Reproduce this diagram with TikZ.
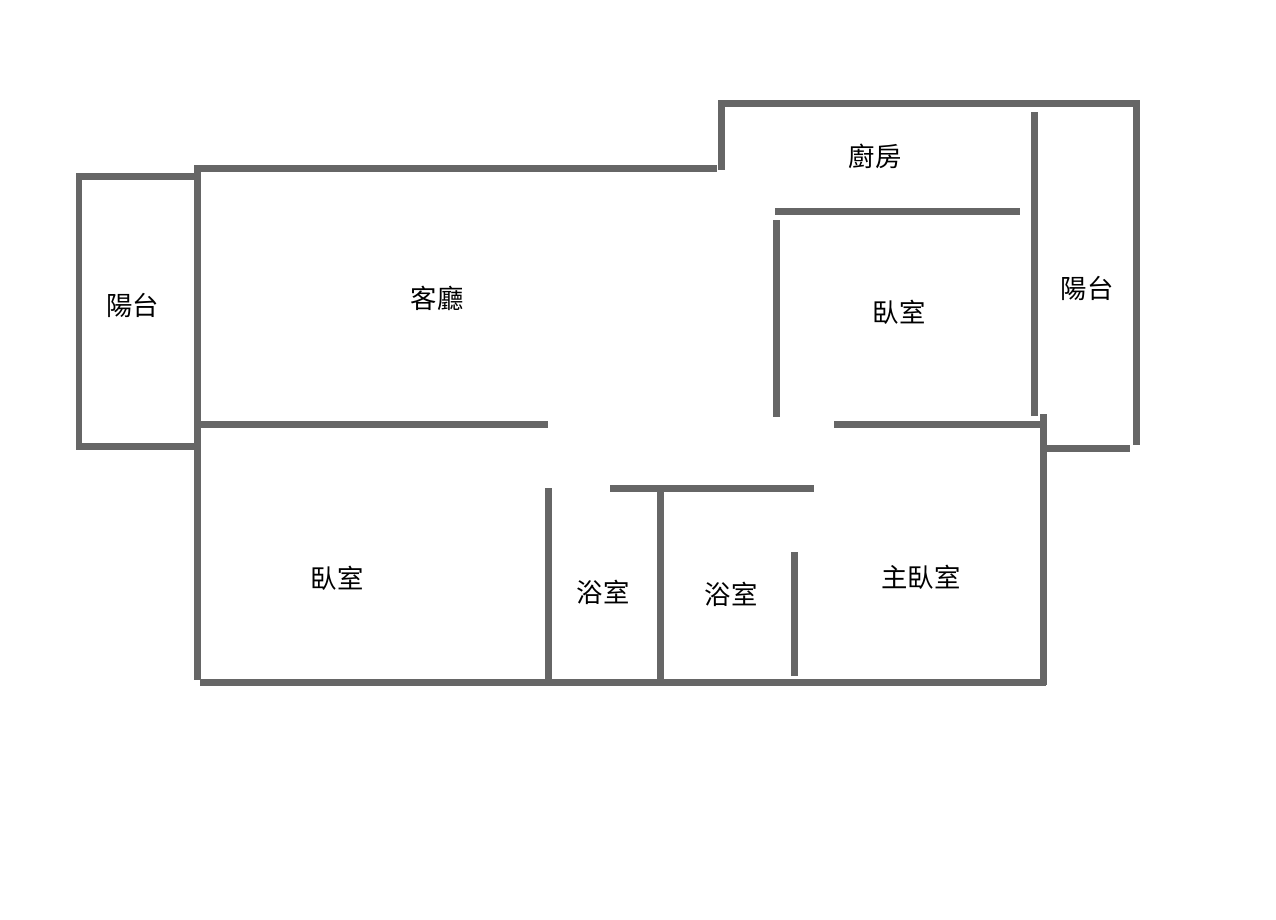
\documentclass[tikz,border=0pt]{standalone}
\usepackage{fontspec}
\usepackage{xcolor}
\usepackage{tikz}
\usetikzlibrary{positioning}
\newfontfamily\cjk{Noto Sans CJK TC}
\definecolor{wallgray}{RGB}{102,102,102}

\begin{document}
\begin{tikzpicture}[
  x=0.02cm, y=-0.02cm,
  wall/.style={draw=wallgray, line width=0.14cm},
  roomlabel/.style={font=\cjk\fontsize{15}{15}\selectfont, inner sep=0pt, text=black}
]
\useasboundingbox (0,0) rectangle (1276,920);

% Outer walls
\draw[wall] (197,176) -- (79,176) -- (79,446) -- (197,446);
\draw[wall] (197,165) -- (197,680);
\draw[wall] (197,168) -- (717,168);
\draw[wall] (721,170) -- (721,103) -- (1136,103) -- (1136,445);
\draw[wall] (1047,448) -- (1130,448);
\draw[wall] (1043,414) -- (1043,685);
\draw[wall] (200,682) -- (1046,682);

% Inner walls
\draw[wall] (775,211) -- (1020,211);
\draw[wall] (776,220) -- (776,417);
\draw[wall] (1034,112) -- (1034,416);
\draw[wall] (200,424) -- (548,424);
\draw[wall] (834,424) -- (1040,424);
\draw[wall] (548,488) -- (548,680);
\draw[wall] (610,488) -- (814,488);
\draw[wall] (660,491) -- (660,680);
\draw[wall] (794,552) -- (794,676);

% Room labels
\node[roomlabel] (balcony_w) at (133,305) {陽台};
\node[roomlabel] (living) at (437,298) {客廳};
\node[roomlabel] (kitchen) at (875,156) {廚房};
\node[roomlabel] (bedroom_ne) at (899,312) {臥室};
\node[roomlabel] (balcony_e) at (1087,288) {陽台};
\node[roomlabel] (bedroom_sw) at (337,578) {臥室};
\node[roomlabel] (bath_a) at (603,592) {浴室};
\node[roomlabel] (bath_b) at (731,594) {浴室};
\node[roomlabel] (master) at (921,577) {主臥室};

\end{tikzpicture}
\end{document}
